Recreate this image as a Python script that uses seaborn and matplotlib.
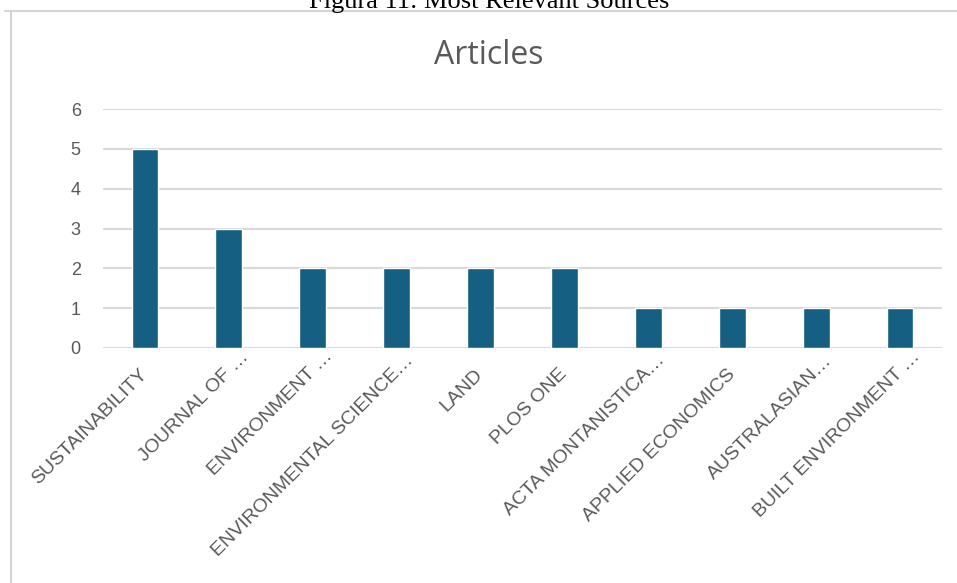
import matplotlib
matplotlib.use("Agg")
import matplotlib.pyplot as plt
import matplotlib.transforms as mtransforms
import seaborn as sns
import pandas as pd
from matplotlib.lines import Line2D

sources = ["SUSTAINABILITY", "JOURNAL OF …", "ENVIRONMENT …", "ENVIRONMENTAL SCIENCE…",
           "LAND", "PLOS ONE", "ACTA MONTANISTICA…", "APPLIED ECONOMICS",
           "AUSTRALASIAN…", "BUILT ENVIRONMENT …"]
articles = [5, 3, 2, 2, 2, 2, 1, 1, 1, 1]
yticks = [0, 1, 2, 3, 4, 5, 6]

sns.set_theme(style="white")
plt.rcParams['font.family'] = ['Liberation Sans', 'DejaVu Sans']

df = pd.DataFrame({"source": sources, "articles": articles})

W, H = 957, 583
fig = plt.figure(figsize=(W / 100, H / 100), dpi=100)
ax = fig.add_axes([103 / W, 1 - 348 / H, (942 - 103) / W, (348 - 109) / H])

sns.barplot(data=df, x="source", y="articles", color="#156082", width=0.32,
            saturation=1, ax=ax, zorder=3)

ax.set_ylim(0, 6)
ax.set_xlim(-0.5, len(sources) - 0.5)
ax.set_yticks(yticks)
ax.yaxis.grid(True, color="#D9D9D9", linewidth=1.5, zorder=0)
ax.set_axisbelow(True)
for s in ax.spines.values():
    s.set_visible(False)
ax.set_xlabel("")
ax.set_ylabel("")
ax.tick_params(axis="both", length=0, colors="#595959")
ax.tick_params(axis="y", labelsize=13, pad=16)
ax.tick_params(axis="x", labelsize=14, pad=17)

label_size = 14
for lab in ax.get_xticklabels():
    lab.set_rotation(45)
    lab.set_ha("right")
    lab.set_va("center")
    lab.set_rotation_mode("anchor")
    lab.set_color("#595959")
    txt = lab.get_text()
    if txt.endswith(" …"):
        d = 1.278 * label_size
    elif txt.endswith("…"):
        d = 1.0 * label_size
    else:
        d = 0
    if d:
        off = mtransforms.ScaledTranslation(d * 0.7071 / 72, d * 0.7071 / 72,
                                            fig.dpi_scale_trans)
        lab.set_transform(lab.get_transform() + off)

fig.text(489 / W, 1 - 56 / H, "Articles", ha="center", va="center",
         fontsize=23, color="#595959", family=["Open Sans", "DejaVu Sans"])

fig.text(489 / W, 1 - 8 / H, "Figura 11: Most Relevant Sources", ha="center",
         va="baseline", fontsize=19, color="black",
         family=["Liberation Serif", "DejaVu Serif"])

fig.add_artist(Line2D([5 / W, 1.0], [1 - 10.5 / H, 1 - 10.5 / H],
                      transform=fig.transFigure, color="#D4D4D4", linewidth=1.5))
fig.add_artist(Line2D([10.5 / W, 10.5 / W], [0, 1 - 10.5 / H],
                      transform=fig.transFigure, color="#D4D4D4", linewidth=1.5))

fig.savefig("out.png", dpi=100, facecolor="white")
